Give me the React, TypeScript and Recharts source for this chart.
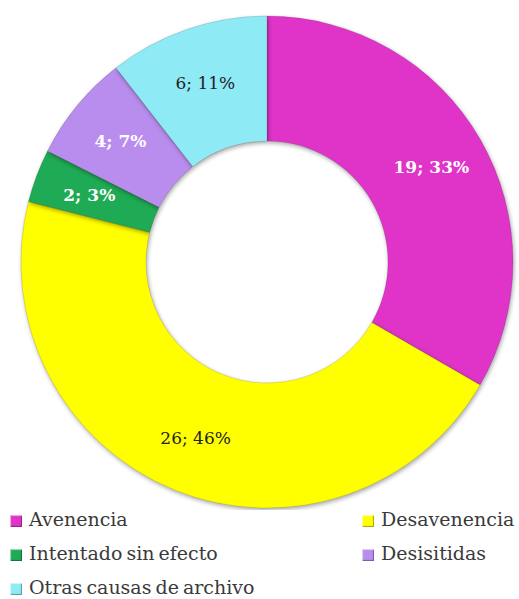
import React from 'react';
import { PieChart, Pie, Cell } from 'recharts';

const categories = ['Avenencia', 'Desavenencia', 'Intentado sin efecto', 'Desisitidas', 'Otras causas de archivo'];
const values = [19, 26, 2, 4, 6];
const percents = ['33%', '46%', '3%', '7%', '11%'];
const colors = ['#E033C8', '#FFFF00', '#1FAA55', '#B88DEE', '#8EEBF6'];
const labelColors = ['#ffffff', '#222222', '#ffffff', '#ffffff', '#222222'];
const labelBold = [true, false, true, true, false];

const data = categories.map((name, i) => ({ name, value: values[i] }));

const RAD = Math.PI / 180;

const renderLabel = (props: any) => {
  const { cx, cy, midAngle, innerRadius, outerRadius, index } = props;
  const r = innerRadius + (outerRadius - innerRadius) * 0.55;
  const x = cx + r * Math.cos(-midAngle * RAD);
  const y = cy + r * Math.sin(-midAngle * RAD);
  return (
    <text
      x={x}
      y={y}
      fill={labelColors[index]}
      textAnchor="middle"
      dominantBaseline="central"
      fontFamily="'DejaVu Serif', serif"
      fontSize={17}
      fontWeight={labelBold[index] ? 'bold' : 'normal'}
    >
      {`${values[index]}; ${percents[index]}`}
    </text>
  );
};

const LegendBox = () => (
  <div
    style={{
      position: 'absolute',
      left: 10,
      top: 508,
      width: 509,
      fontFamily: "'DejaVu Serif', serif",
      fontSize: 19,
      wordSpacing: -2,
      color: '#3a3a3a',
    }}
  >
    {categories.map((c, i) => (
      <div
        key={c}
        style={{
          position: 'absolute',
          left: i % 2 === 0 ? 0 : 352,
          top: Math.floor(i / 2) * 34,
          display: 'flex',
          alignItems: 'center',
          whiteSpace: 'nowrap',
        }}
      >
        <span
          style={{
            display: 'inline-block',
            width: 12,
            height: 12,
            marginRight: 7,
            marginTop: 3,
            background: colors[i],
            boxShadow: 'inset 1px 1px 1px rgba(255,255,255,0.6), inset -1px -1px 1px rgba(0,0,0,0.35)',
          }}
        />
        {c}
      </div>
    ))}
  </div>
);

export default function App() {
  return (
    <div style={{ position: 'absolute', left: 0, top: 0, width: 519, height: 599, overflow: 'hidden', background: '#fff' }}>
      <style>{`.recharts-pie-sector path { filter: drop-shadow(1px 2px 2px rgba(0,0,0,0.35)); }`}</style>
      <PieChart width={519} height={510}>
        <Pie
          data={data}
          dataKey="value"
          cx={262}
          cy={257}
          innerRadius={121}
          outerRadius={246}
          startAngle={90}
          endAngle={-270}
          stroke="rgba(0,0,0,0.12)"
          strokeWidth={1}
          label={renderLabel}
          labelLine={false}
          isAnimationActive={false}
        >
          {data.map((d, i) => (
            <Cell key={d.name} fill={colors[i]} />
          ))}
        </Pie>
      </PieChart>
      <LegendBox />
    </div>
  );
}
